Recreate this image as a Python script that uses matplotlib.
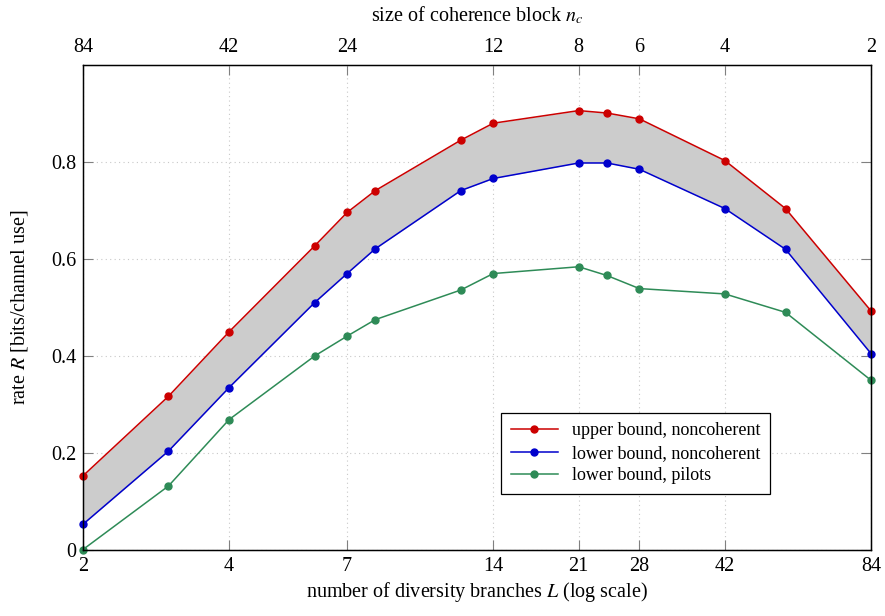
import numpy as np
import matplotlib
matplotlib.use("Agg")
from matplotlib import pyplot as plt

plt.rcParams['font.family'] = ['Liberation Serif', 'DejaVu Serif']
plt.rcParams['mathtext.fontset'] = 'stix'

# diversity branches L and rates in bits/channel use
branches = [2, 3, 4, 6, 7, 8, 12, 14, 21, 24, 28, 42, 56, 84]
upper_noncoh = [0.153, 0.317, 0.450, 0.627, 0.696, 0.741, 0.845, 0.880,
                0.906, 0.901, 0.889, 0.803, 0.704, 0.493]
lower_noncoh = [0.053, 0.204, 0.335, 0.510, 0.570, 0.621, 0.741, 0.766,
                0.798, 0.798, 0.785, 0.704, 0.620, 0.405]
lower_pilots = [0.001, 0.132, 0.269, 0.400, 0.441, 0.475, 0.536, 0.570,
                0.584, 0.566, 0.539, 0.528, 0.490, 0.350]

bottom_ticks = [2, 4, 7, 14, 21, 28, 42, 84]
# coherence block size n_c = 168 / L at the same positions
block_sizes = [84, 42, 24, 12, 8, 6, 4, 2]
y_ticks = [0, 0.2, 0.4, 0.6, 0.8]
y_ticklabels = ['0', '0.2', '0.4', '0.6', '0.8']

red = '#cc0000'
blue = '#0000cc'
green = '#2e8b57'

fig = plt.figure(figsize=(8.85, 6.16), dpi=100)
ax = fig.add_axes([83 / 885, 1 - 550 / 616, 788 / 885, 485 / 616])

ax.fill_between(branches, lower_noncoh, upper_noncoh, color='#cccccc',
                linewidth=0, zorder=1)
line_kw = dict(marker='o', markersize=5, linewidth=1.1, zorder=3, clip_on=False)
ax.plot(branches, upper_noncoh, color=red, label='upper bound, noncoherent', **line_kw)
ax.plot(branches, lower_noncoh, color=blue, label='lower bound, noncoherent', **line_kw)
ax.plot(branches, lower_pilots, color=green, label='lower bound, pilots', **line_kw)

ax.set_xscale('log')
ax.set_xlim(2, 84)
ax.set_ylim(0, 1.0)
ax.set_xticks(bottom_ticks)
ax.set_xticklabels([str(t) for t in bottom_ticks])
ax.xaxis.set_minor_locator(matplotlib.ticker.NullLocator())
ax.set_yticks(y_ticks)
ax.set_yticklabels(y_ticklabels)

ax.grid(True, which='major', linestyle=(0, (1, 3)), color='#c8c8c8',
        linewidth=0.8, zorder=0)
ax.set_axisbelow(True)
ax.tick_params(axis='both', direction='in', length=7, width=0.8,
               color='#808080', labelsize=14.5, top=False, right=True, pad=5)
for sp in ax.spines.values():
    sp.set_linewidth(1.0)
    sp.set_zorder(4)

ax.set_xlabel(r'number of diversity branches $L$ (log scale)', fontsize=14.5, labelpad=3)
ax.set_ylabel(r'rate $R$ [bits/channel use]', fontsize=14.5, labelpad=15)

top = ax.twiny()
top.set_xscale('log')
top.set_xlim(ax.get_xlim())
top.set_xticks(bottom_ticks)
top.set_xticklabels([str(n) for n in block_sizes])
top.xaxis.set_minor_locator(matplotlib.ticker.NullLocator())
top.tick_params(axis='x', direction='in', length=7, width=0.8,
                color='#808080', labelsize=14.5, pad=6)
top.set_xlabel(r'size of coherence block $n_c$', fontsize=14.5, labelpad=12)

leg = ax.legend(loc='lower left', bbox_to_anchor=(0.530, 0.115), borderaxespad=0,
                fontsize=13, frameon=True, fancybox=False, edgecolor='black',
                framealpha=1, handlelength=2.6, borderpad=0.55, labelspacing=0.3)
leg.get_frame().set_linewidth(0.9)

fig.savefig('out.png', dpi=100)
